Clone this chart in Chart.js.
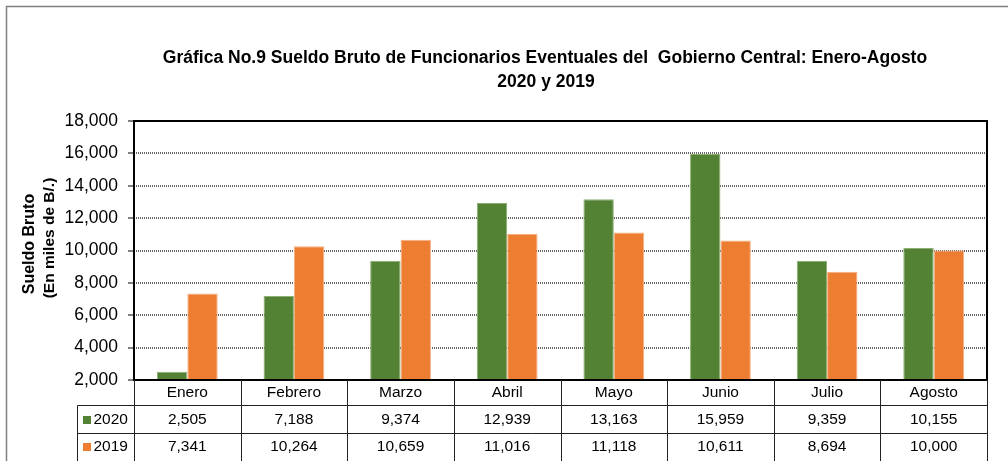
<!DOCTYPE html>
<html>
<head>
<meta charset="utf-8">
<script src="https://cdn.jsdelivr.net/npm/chart.js@4.4.0/dist/chart.umd.min.js"></script>
<style>
  html, body { margin: 0; padding: 0; background: #fff; }
  #wrap { width: 1008px; height: 461px; position: relative; }
</style>
</head>
<body>
<div id="wrap"><canvas id="c" width="1008" height="461"></canvas></div>
<script>
const categories = ["Enero", "Febrero", "Marzo", "Abril", "Mayo", "Junio", "Julio", "Agosto"];
const series2020 = [2505, 7188, 9374, 12939, 13163, 15959, 9359, 10155];
const series2019 = [7341, 10264, 10659, 11016, 11118, 10611, 8694, 10000];
const seriesNames = ["2020", "2019"];
const titleLines = ["Gráfica No.9 Sueldo Bruto de Funcionarios Eventuales del  Gobierno Central: Enero-Agosto", "2020 y 2019"];
const yTitleLines = ["Sueldo Bruto", "(En miles de B/.)"];
const yMin = 2000, yMax = 18000, yStep = 2000;

const FONT = "'Liberation Sans', Arial, sans-serif";
const fmt = v => v.toLocaleString('en-US');

const tablePlugin = {
  id: 'tablePlugin',
  afterDraw(chart) {
    const ctx = chart.ctx;
    const ca = chart.chartArea;
    const xs = chart.scales.x;
    const n = categories.length;
    ctx.save();

    // outer border
    ctx.strokeStyle = '#7f7f7f';
    ctx.lineWidth = 1.5;
    ctx.beginPath();
    ctx.moveTo(6.5, 461);
    ctx.lineTo(6.5, 6.5);
    ctx.lineTo(1008, 6.5);
    ctx.stroke();

    // title
    ctx.fillStyle = '#000';
    ctx.font = 'bold 17.5px ' + FONT;
    ctx.textAlign = 'center';
    ctx.textBaseline = 'middle';
    ctx.fillText(titleLines[0], 545, 58);
    ctx.fillText(titleLines[1], 546, 82);

    // y title
    ctx.save();
    ctx.translate(30, 244);
    ctx.rotate(-Math.PI / 2);
    ctx.font = 'bold 16px ' + FONT;
    ctx.fillText(yTitleLines[0], 0, 0);
    ctx.restore();
    ctx.save();
    ctx.translate(50, 238);
    ctx.rotate(-Math.PI / 2);
    ctx.font = 'bold 15.5px ' + FONT;
    ctx.fillText(yTitleLines[1], 0, 0);
    ctx.restore();

    // plot frame
    ctx.strokeStyle = '#000';
    ctx.lineWidth = 2;
    ctx.strokeRect(ca.left, ca.top, ca.right - ca.left, ca.bottom - ca.top);

    // table geometry
    const bounds = [ca.left];
    for (let i = 1; i < n; i++) {
      bounds.push((xs.getPixelForValue(i - 1) + xs.getPixelForValue(i)) / 2);
    }
    bounds.push(ca.right);
    const rowY = [ca.bottom, 405.5, 433.5, 470];
    const legLeft = 77.5;

    ctx.strokeStyle = '#222';
    ctx.lineWidth = 1;
    ctx.beginPath();
    for (let k = 0; k <= n; k++) {
      const x = Math.round(bounds[k]) + 0.5;
      ctx.moveTo(x, ca.bottom);
      ctx.lineTo(x, 461);
    }
    ctx.moveTo(legLeft, rowY[1]);
    ctx.lineTo(ca.right, rowY[1]);
    ctx.moveTo(legLeft, rowY[2]);
    ctx.lineTo(ca.right, rowY[2]);
    ctx.moveTo(legLeft, rowY[1]);
    ctx.lineTo(legLeft, 461);
    ctx.stroke();

    // texts
    ctx.fillStyle = '#000';
    ctx.font = '15.5px ' + FONT;
    ctx.textAlign = 'center';
    ctx.textBaseline = 'middle';
    const rowsData = [series2020, series2019];
    const centersY = [393, 420, 447];
    for (let i = 0; i < n; i++) {
      const cx = xs.getPixelForValue(i);
      ctx.fillText(categories[i], cx, centersY[0]);
      ctx.fillText(fmt(rowsData[0][i]), cx, centersY[1]);
      ctx.fillText(fmt(rowsData[1][i]), cx, centersY[2]);
    }
    // legend keys
    chart.data.datasets.forEach((ds, j) => {
      const cy = centersY[j + 1];
      ctx.fillStyle = ds.backgroundColor;
      ctx.fillRect(83, cy - 4, 8, 8);
      ctx.fillStyle = '#000';
      ctx.textAlign = 'left';
      ctx.fillText(ds.label, 93.5, cy);
    });
    ctx.restore();
  }
};

new Chart(document.getElementById('c'), {
  type: 'bar',
  data: {
    labels: categories,
    datasets: [
      { label: seriesNames[0], data: series2020, backgroundColor: '#548235', borderColor: '#8DB072', borderWidth: 1,
        categoryPercentage: 0.57, barPercentage: 1.0 },
      { label: seriesNames[1], data: series2019, backgroundColor: '#ED7D31', borderColor: '#F5B083', borderWidth: 1,
        categoryPercentage: 0.57, barPercentage: 1.0 }
    ]
  },
  options: {
    responsive: false,
    animation: false,
    devicePixelRatio: 1,
    layout: { padding: { left: 10, right: 21, top: 121, bottom: 81 } },
    plugins: { legend: { display: false }, title: { display: false }, tooltip: { enabled: false } },
    scales: {
      x: { display: false },
      y: {
        min: yMin, max: yMax,
        afterFit(scale) { scale.width = 124; },
        ticks: {
          stepSize: yStep,
          padding: 10,
          color: '#000',
          font: { family: FONT, size: 17.5 },
          callback: v => fmt(v)
        },
        grid: {
          color: '#666',
          lineWidth: 2,
          tickLength: 6,
          tickColor: '#000',
          tickWidth: 1,
          tickBorderDash: []
        },
        border: { display: false, dash: [1, 1] }
      }
    }
  },
  plugins: [tablePlugin]
});
</script>
</body>
</html>
